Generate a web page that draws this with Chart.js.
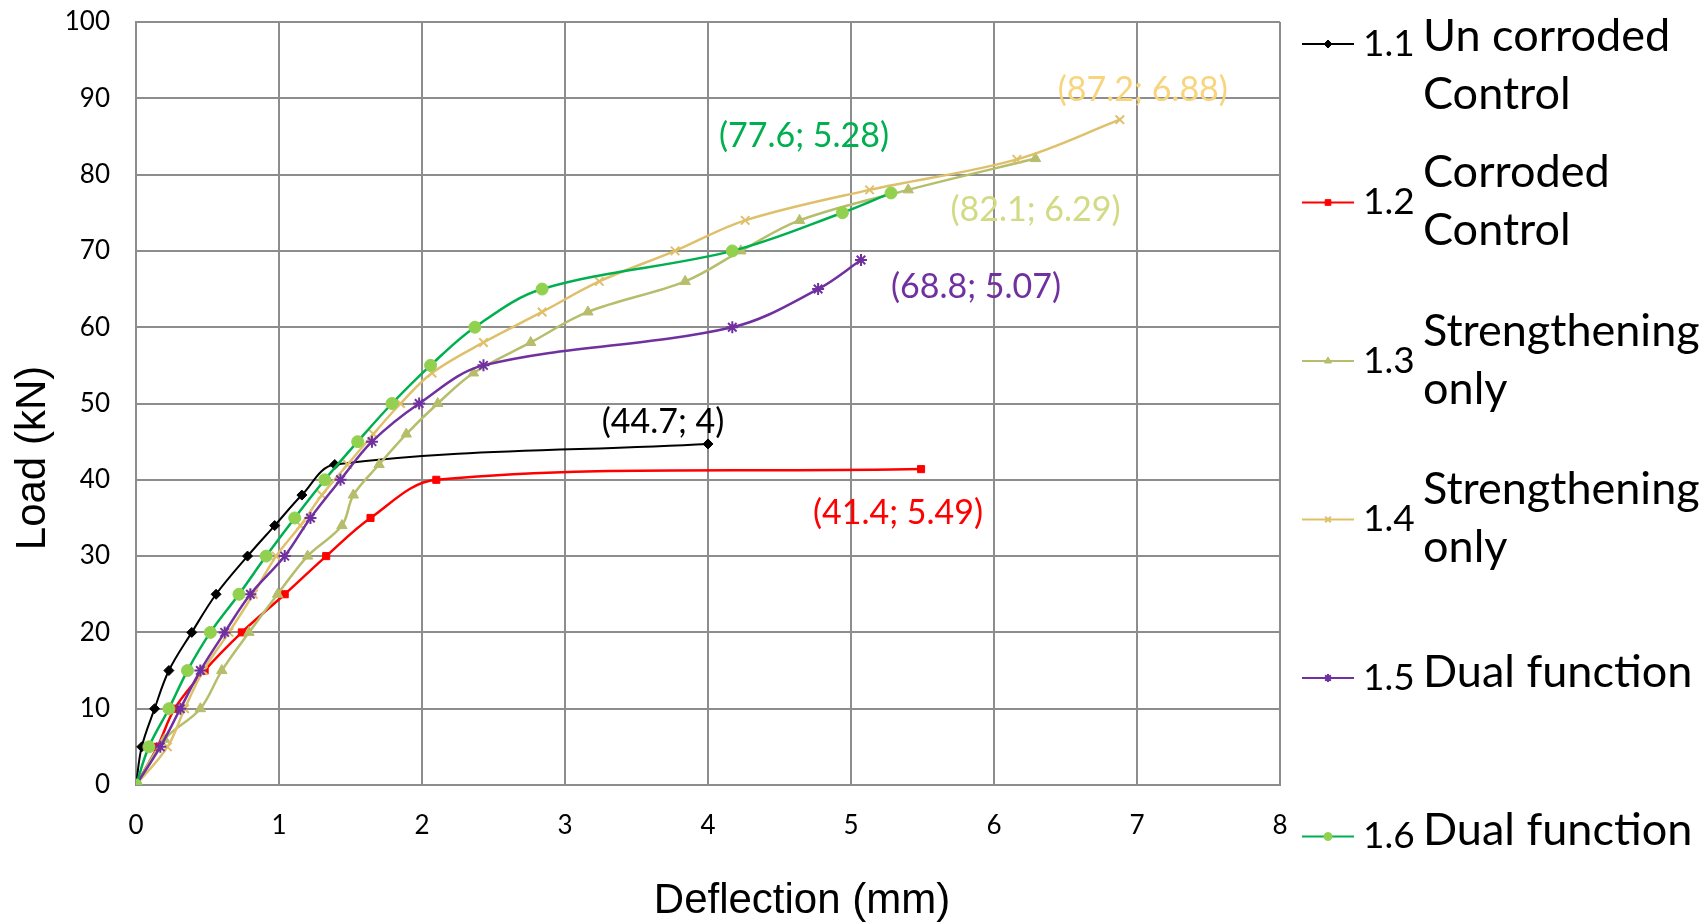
<!DOCTYPE html>
<html>
<head>
<meta charset="utf-8">
<script src="https://cdn.jsdelivr.net/npm/chart.js@4.4.0/dist/chart.umd.min.js"></script>
<style>
  html, body { margin: 0; padding: 0; background: #fff; }
  #wrap { width: 1707px; height: 923px; }
</style>
</head>
<body>
<div id="wrap"><canvas id="chart"></canvas></div>
<script>
// data: deflection (mm) and load (kN)
const defl11 = [0, 0.04, 0.13, 0.23, 0.39, 0.56, 0.78, 0.97, 1.16, 1.39, 4.0];
const load11 = [0, 5, 10, 15, 20, 25, 30, 34, 38, 42, 44.7];

const defl12 = [0, 0.15, 0.27, 0.48, 0.74, 1.04, 1.33, 1.64, 2.10, 5.49];
const load12 = [0, 5, 10, 15, 20, 25, 30, 35, 40, 41.4];

const defl13 = [0, 0.2, 0.45, 0.60, 0.79, 0.99, 1.20, 1.44, 1.52, 1.70, 1.89, 2.11, 2.36, 2.76, 3.16, 3.84, 4.23, 4.64, 5.40, 6.29];
const load13 = [0, 6, 10, 15, 20, 25, 30, 34, 38, 42, 46, 50, 54, 58, 62, 66, 70, 74, 78, 82.1];

const defl14 = [0, 0.22, 0.34, 0.47, 0.65, 0.82, 0.98, 1.15, 1.30, 1.48, 1.66, 1.85, 2.07, 2.43, 2.84, 3.24, 3.77, 4.26, 5.13, 6.16, 6.88];
const load14 = [0, 5, 10, 15, 20, 25, 30, 34, 38, 42, 46, 50, 54, 58, 62, 66, 70, 74, 78, 82, 87.2];

const defl15 = [0, 0.17, 0.31, 0.45, 0.62, 0.80, 1.04, 1.22, 1.43, 1.65, 1.98, 2.43, 4.17, 4.77, 5.07];
const load15 = [0, 5, 10, 15, 20, 25, 30, 35, 40, 45, 50, 55, 60, 65, 68.8];

const defl16 = [0, 0.09, 0.23, 0.36, 0.52, 0.72, 0.91, 1.11, 1.32, 1.55, 1.79, 2.06, 2.37, 2.84, 4.17, 4.94, 5.28];
const load16 = [0, 5, 10, 15, 20, 25, 30, 35, 40, 45, 50, 55, 60, 65, 70, 75, 77.6];

const seriesNumbers = ['1.1', '1.2', '1.3', '1.4', '1.5', '1.6'];
const seriesNames = [
  ['Un corroded', 'Control'],
  ['Corroded', 'Control'],
  ['Strengthening', 'only'],
  ['Strengthening', 'only'],
  ['Dual function'],
  ['Dual function']
];

const xTitle = 'Deflection (mm)';
const yTitle = 'Load (kN)';
const xTicksMax = 8;
const yTicksMax = 100;

// styles
const lineColors = ['#000000', '#ff0000', '#b6bd6b', '#dfc06a', '#7030a0', '#00b050'];
const markerColors = ['#000000', '#ff0000', '#b6bd6b', '#dfc06a', '#7030a0', '#92d050'];
const labelColors = ['#000000', '#ff0000', '#d3da84', '#f8d47c', '#7030a0', '#00b050'];
const markerStyles = ['rectRot', 'rect', 'triangle', 'crossRot', 'star', 'circle'];
const markerSizes = [5, 5, 6, 6, 6, 6];
// where each end label sits relative to its last point (px)
const labelShift = [[-45, -22], [-23, 44], [0, 51], [23, -30], [115, 27], [-87, -57]];

const gridGray = '#8d8d8d';
const allDefl = [defl11, defl12, defl13, defl14, defl15, defl16];
const allLoad = [load11, load12, load13, load14, load15, load16];

function toPoints(xs, ys) {
  return xs.map((x, i) => ({ x: x, y: ys[i] }));
}

const datasets = allDefl.map((xs, i) => ({
  label: seriesNumbers[i] + ' ' + seriesNames[i].join(' '),
  data: toPoints(xs, allLoad[i]),
  borderColor: lineColors[i],
  backgroundColor: markerColors[i],
  pointBorderColor: markerColors[i],
  pointBackgroundColor: markerColors[i],
  pointStyle: markerStyles[i],
  pointRadius: markerSizes[i],
  pointBorderWidth: markerStyles[i] === 'crossRot' || markerStyles[i] === 'star' ? 2 : 1,
  borderWidth: i === 0 ? 2 : 2.5,
  tension: 0.35,
  fill: false,
  order: 5 - i
}));

const endLabels = {
  id: 'endLabels',
  afterDatasetsDraw(chart) {
    const ctx = chart.ctx;
    const xs = chart.scales.x, ys = chart.scales.y;
    ctx.save();
    ctx.font = '34px Lato';
    ctx.textAlign = 'center';
    ctx.textBaseline = 'middle';
    allDefl.forEach((d, i) => {
      const lx = d[d.length - 1];
      const ly = allLoad[i][allLoad[i].length - 1];
      const px = xs.getPixelForValue(lx) + labelShift[i][0];
      const py = ys.getPixelForValue(ly) + labelShift[i][1];
      ctx.fillStyle = labelColors[i];
      ctx.fillText('(' + ly + '; ' + lx + ')', px, py);
    });
    ctx.restore();
  }
};

// axis titles sit off-centre in the original, so they are drawn here
const axisTitles = {
  id: 'axisTitles',
  afterDraw(chart) {
    const ctx = chart.ctx;
    ctx.save();
    ctx.fillStyle = '#000';
    ctx.font = '42px "Liberation Sans"';
    ctx.textAlign = 'center';
    ctx.textBaseline = 'middle';
    ctx.fillText(xTitle, 802, 901);
    ctx.translate(33, 458);
    ctx.rotate(-Math.PI / 2);
    ctx.fillText(yTitle, 0, 0);
    ctx.restore();
  }
};

const sideLegend = {
  id: 'sideLegend',
  afterDraw(chart) {
    const ctx = chart.ctx;
    const lineX0 = 1302, lineX1 = 1354, numX = 1363, textX = 1423;
    ctx.save();
    chart.data.datasets.forEach((ds, i) => {
      const y = 44 + i * 158.5;
      ctx.strokeStyle = ds.borderColor;
      ctx.lineWidth = 2;
      ctx.beginPath();
      ctx.moveTo(lineX0, y);
      ctx.lineTo(lineX1, y);
      ctx.stroke();

      ctx.fillStyle = ds.pointBackgroundColor;
      ctx.strokeStyle = ds.pointBorderColor;
      ctx.lineWidth = ds.pointBorderWidth;
      Chart.helpers.drawPoint(ctx, {
        pointStyle: ds.pointStyle,
        radius: 4,
        rotation: 0,
        borderWidth: ds.pointBorderWidth
      }, (lineX0 + lineX1) / 2, y);

      ctx.fillStyle = '#000';
      ctx.textAlign = 'left';
      ctx.textBaseline = 'middle';
      ctx.font = '37px Lato';
      ctx.fillText(seriesNumbers[i], numX, y);
      ctx.font = '45px Lato';
      const names = seriesNames[i];
      let first = names.length > 1 ? y - 30 : y - 6;
      if (i === 0) first = 36;
      names.forEach((t, k) => ctx.fillText(t, textX, first + k * 58));
    });
    ctx.restore();
  }
};

new Chart(document.getElementById('chart'), {
  type: 'line',
  data: { datasets: datasets },
  options: {
    responsive: true,
    maintainAspectRatio: false,
    animation: false,
    layout: { padding: { left: 0, right: 427, top: 22, bottom: 0 } },
    plugins: {
      legend: { display: false },
      tooltip: { enabled: false }
    },
    scales: {
      x: {
        type: 'linear',
        min: 0,
        max: xTicksMax,
        ticks: { stepSize: 1, color: '#000', font: { family: 'Lato', size: 26 }, padding: 25 },
        grid: { color: gridGray, lineWidth: 2, drawTicks: false },
        border: { color: gridGray, width: 2 },
        afterFit(s) {
          s.height = 138;
          s.paddingLeft = 0;
          s.paddingRight = 0;
        }
      },
      y: {
        type: 'linear',
        min: 0,
        max: yTicksMax,
        ticks: { stepSize: 10, color: '#000', font: { family: 'Lato', size: 26 }, padding: 26 },
        grid: { color: gridGray, lineWidth: 2, drawTicks: false },
        border: { color: gridGray, width: 2 },
        afterFit(s) {
          s.width = 136;
          s.paddingTop = 0;
          s.paddingBottom = 0;
        }
      }
    }
  },
  plugins: [endLabels, axisTitles, sideLegend]
});
</script>
</body>
</html>
